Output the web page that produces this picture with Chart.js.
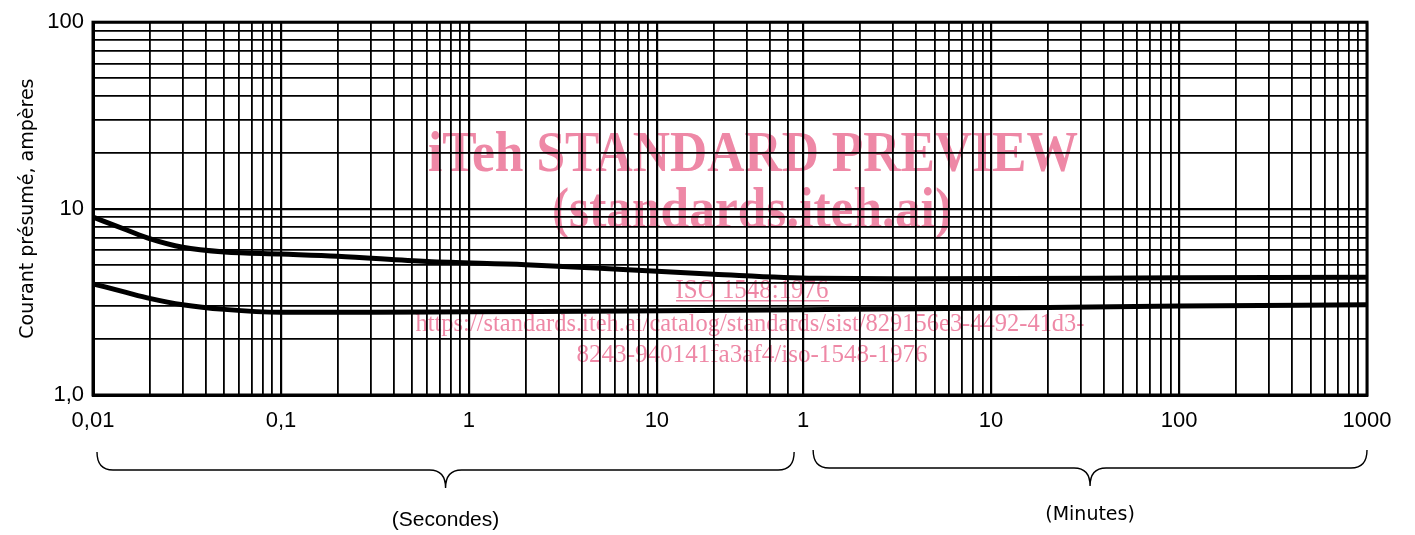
<!DOCTYPE html>
<html>
<head>
<meta charset="utf-8">
<script src="https://cdn.jsdelivr.net/npm/chart.js@4.4.1/dist/chart.umd.min.js"></script>
<style>
html, body { margin: 0; padding: 0; background: #fff; }
#wrap { width: 1415px; height: 535px; position: relative; }
</style>
</head>
<body>
<div id="wrap"><canvas id="chart"></canvas></div>
<script>
// time in seconds (1 min = 60 s), current in amperes
const upperTimes = [0.01, 0.015, 0.02, 0.03, 0.05, 0.1, 0.2, 0.6, 2, 7, 20, 70, 250, 6000, 60000];
const upperAmps  = [9.0, 7.7, 6.9, 6.2, 5.85, 5.7, 5.55, 5.2, 5.0, 4.7, 4.45, 4.23, 4.21, 4.25, 4.28];
const lowerTimes = [0.01, 0.015, 0.02, 0.03, 0.05, 0.1, 0.3, 1, 7, 60, 250, 6000, 60000];
const lowerAmps  = [3.95, 3.55, 3.3, 3.05, 2.88, 2.78, 2.78, 2.8, 2.82, 2.87, 2.9, 3.0, 3.05];

const xLabelValues = [0.01, 0.1, 1, 10, 60, 600, 6000, 60000];
const xLabelTexts  = ["0,01", "0,1", "1", "10", "1", "10", "100", "1000"];
const yLabelValues = [1, 10, 100];
const yLabelTexts  = ["1,0", "10", "100"];

const yTitle = "Courant présumé, ampères";
const secText = "(Secondes)";
const minText = "(Minutes)";

// grid: 1..9 per decade, seconds up to 50 s, then minutes
const mult = [1, 2, 3, 4, 5, 6, 7, 8, 9];
const xGrid = [];
[0.01, 0.1, 1].forEach(d => mult.forEach(k => xGrid.push(+(k * d).toPrecision(6))));
[10, 20, 30, 40, 50].forEach(v => xGrid.push(v));
[1, 10, 100].forEach(d => mult.forEach(k => xGrid.push(k * d * 60)));
xGrid.push(60000);
const yGrid = [];
[1, 10].forEach(d => mult.forEach(k => yGrid.push(k * d)));
yGrid.push(100);

function findLabel(vals, texts, v) {
	for (let i = 0; i < vals.length; i++) {
		if (Math.abs(Math.log10(vals[i]) - Math.log10(v)) < 1e-6) return texts[i];
	}
	return "";
}

const pink = "rgb(238,136,166)";

const watermark = {
	id: "watermark",
	beforeDraw(chart) {
		const ctx = chart.ctx;
		ctx.save();
		ctx.fillStyle = pink;
		ctx.textAlign = "center";
		ctx.textBaseline = "alphabetic";
		ctx.font = "bold 58px 'Liberation Serif'";
		ctx.fillText("iTeh STANDARD PREVIEW", 753, 171, 650);
		ctx.fillText("(standards.iteh.ai)", 752, 227, 400);
		ctx.font = "27px 'Liberation Serif'";
		ctx.fillText("ISO 1548:1976", 752, 298, 153);
		ctx.fillRect(676, 300, 153, 1.5);
		ctx.font = "26px 'Liberation Serif'";
		ctx.fillText("https://standards.iteh.ai/catalog/standards/sist/829156e3-4492-41d3-", 750, 331, 669);
		ctx.fillText("8243-940141fa3af4/iso-1548-1976", 752, 362, 351);
		ctx.restore();
	}
};

const frameAndBraces = {
	id: "frameAndBraces",
	afterDraw(chart) {
		const ctx = chart.ctx;
		const a = chart.chartArea;
		const xs = chart.scales.x;
		ctx.save();
		ctx.strokeStyle = "#000";
		ctx.lineWidth = 3;
		ctx.strokeRect(a.left, a.top, a.right - a.left, a.bottom - a.top);

		function brace(x1, x2, yTop, yMid, yTip) {
			const xm = (x1 + x2) / 2;
			ctx.beginPath();
			ctx.moveTo(x1, yTop);
			ctx.quadraticCurveTo(x1, yMid, x1 + 16, yMid);
			ctx.lineTo(xm - 16, yMid);
			ctx.quadraticCurveTo(xm, yMid, xm, yTip);
			ctx.quadraticCurveTo(xm, yMid, xm + 16, yMid);
			ctx.lineTo(x2 - 16, yMid);
			ctx.quadraticCurveTo(x2, yMid, x2, yTop);
			ctx.stroke();
			return xm;
		}
		ctx.lineWidth = 1.4;
		const s1 = xs.getPixelForValue(0.01) + 4;
		const s2 = xs.getPixelForValue(60) - 9;
		const m1 = xs.getPixelForValue(60) + 10;
		const m2 = xs.getPixelForValue(60000);
		const sm = brace(s1, s2, 452, 470, 488);
		const mm = brace(m1, m2, 450, 468, 486);

		ctx.fillStyle = "#000";
		ctx.textAlign = "center";
		ctx.textBaseline = "middle";
		ctx.font = "21px 'Liberation Sans'";
		ctx.fillText(secText, sm, 520);
		ctx.font = "19px 'DejaVu Sans'";
		ctx.fillText(minText, mm, 515);
		ctx.restore();
	}
};

Chart.defaults.font.family = "'Liberation Sans'";
Chart.defaults.color = "#000";

const ctx = document.getElementById("chart").getContext("2d");
new Chart(ctx, {
	type: "scatter",
	data: {
		datasets: [
			{
				data: upperTimes.map((t, i) => ({ x: t, y: upperAmps[i] })),
				showLine: true,
				borderColor: "#000",
				borderWidth: 5,
				pointRadius: 0,
				cubicInterpolationMode: "monotone"
			},
			{
				data: lowerTimes.map((t, i) => ({ x: t, y: lowerAmps[i] })),
				showLine: true,
				borderColor: "#000",
				borderWidth: 5,
				pointRadius: 0,
				cubicInterpolationMode: "monotone"
			}
		]
	},
	options: {
		responsive: true,
		maintainAspectRatio: false,
		animation: false,
		layout: { autoPadding: false, padding: { top: 17, right: 48, left: 0, bottom: 0 } },
		plugins: { legend: { display: false }, tooltip: { enabled: false } },
		scales: {
			x: {
				type: "logarithmic",
				min: 0.01,
				max: 60000,
				afterBuildTicks: s => { s.ticks = xGrid.map(v => ({ value: v })); },
				afterFit: s => { s.height = 140; },
				grid: {
					color: "#000",
					lineWidth: c => (c.tick && xLabelValues.some(v => Math.abs(Math.log10(v) - Math.log10(c.tick.value)) < 1e-6) ? 2.2 : 1.8),
					drawTicks: false
				},
				border: { display: true, color: "#000", width: 3 },
				ticks: {
					autoSkip: false,
					maxRotation: 0,
					padding: 13,
					font: { size: 22 },
					callback: v => findLabel(xLabelValues, xLabelTexts, v)
				}
			},
			y: {
				type: "logarithmic",
				min: 1,
				max: 100,
				afterBuildTicks: s => { s.ticks = yGrid.map(v => ({ value: v })); },
				afterFit: s => { s.width = 93; },
				grid: {
					color: "#000",
					lineWidth: c => (c.tick && (c.tick.value === 10 || c.tick.value === 100) ? 2.2 : 1.8),
					drawTicks: false
				},
				border: { display: true, color: "#000", width: 3 },
				title: {
					display: true,
					text: yTitle,
					font: { size: 19, family: "'DejaVu Sans'" },
					padding: { top: 17, bottom: 0 }
				},
				ticks: {
					autoSkip: false,
					padding: 9,
					font: { size: 22 },
					callback: v => findLabel(yLabelValues, yLabelTexts, v)
				}
			}
		}
	},
	plugins: [watermark, frameAndBraces]
});
</script>
</body>
</html>
